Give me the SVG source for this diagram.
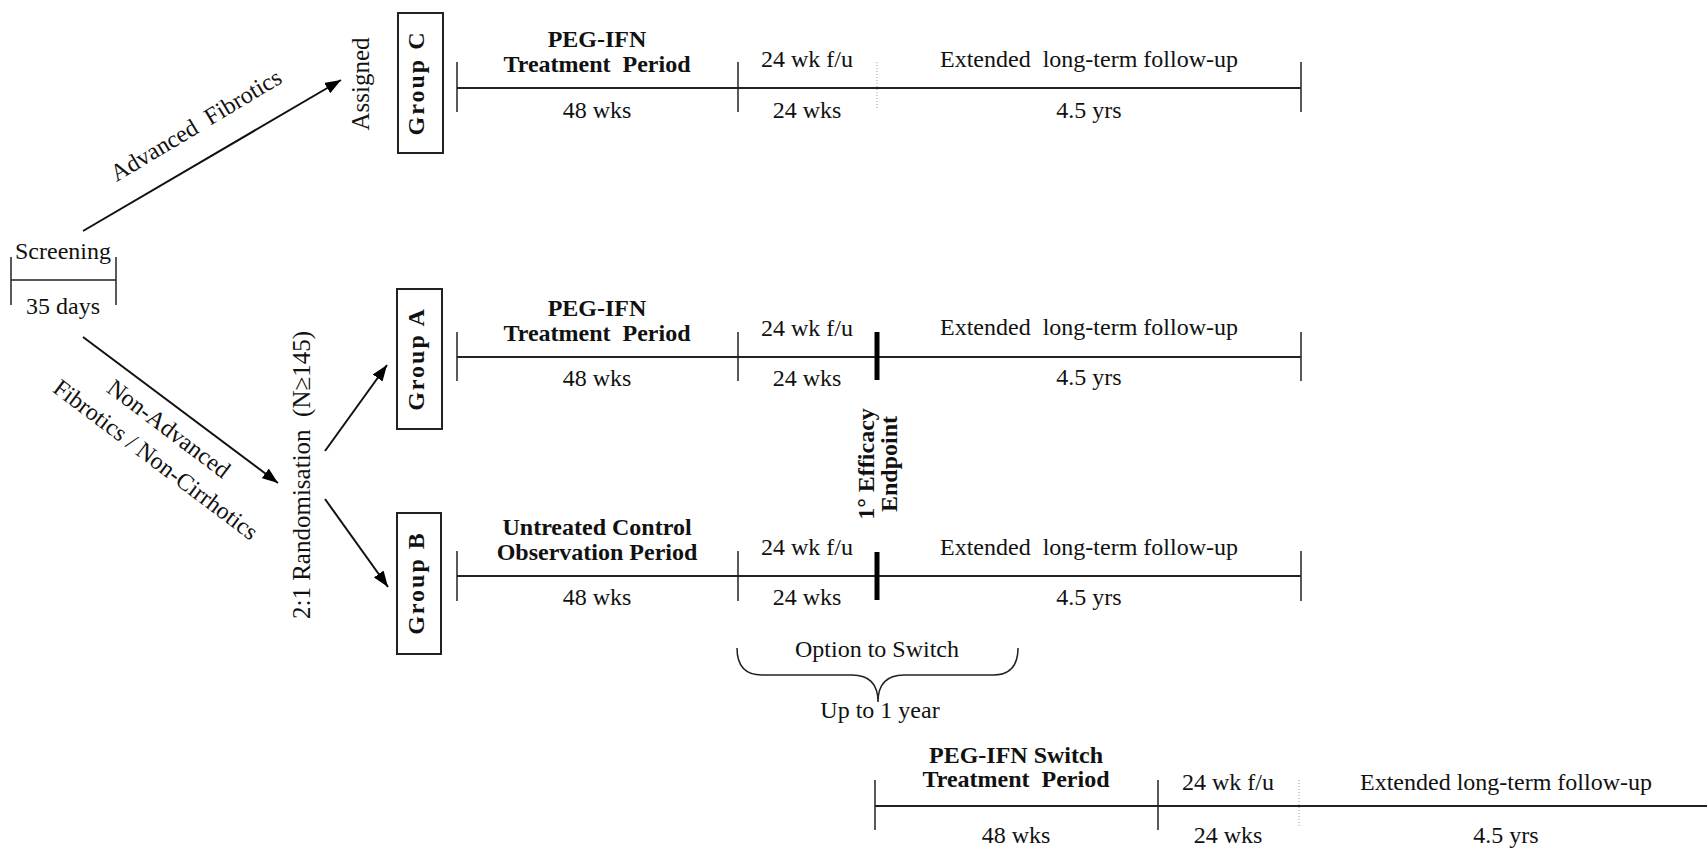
<svg xmlns="http://www.w3.org/2000/svg" width="1707" height="848" viewBox="0 0 1707 848">
<style>
.t{font-family:"Liberation Serif","Times New Roman",serif;font-size:24px;fill:#111;text-anchor:middle}
.b{font-weight:bold}
.ln{stroke:#222;stroke-width:2;fill:none}
.tk{stroke:#222;stroke-width:1.5;fill:none}
.dot{stroke:#999;stroke-width:1;stroke-dasharray:1 2}
.bar{stroke:#000;stroke-width:5}
.box{fill:#fff;stroke:#222;stroke-width:2}
.ar{stroke:#111;stroke-width:2;fill:none;marker-end:url(#ah)}
</style>
<defs>
<marker id="ah" viewBox="0 0 16 12" refX="16" refY="6" markerWidth="16" markerHeight="12" markerUnits="userSpaceOnUse" orient="auto">
<path d="M0,0 L16,6 L0,12 z" fill="#000"/>
</marker>
</defs>
<rect width="1707" height="848" fill="#fff"/>

<g id="screening">
<line class="tk" x1="11" y1="280" x2="116" y2="280"/>
<line class="tk" x1="11" y1="257" x2="11" y2="305"/>
<line class="tk" x1="116" y1="257" x2="116" y2="305"/>
<text class="t" x="63" y="259">Screening</text>
<text class="t" x="63" y="314">35 days</text>
</g>

<g id="connectors">
<line class="ar" x1="83" y1="231" x2="341" y2="80"/>
<line class="ar" x1="83" y1="337" x2="278" y2="483"/>
<line class="ar" x1="325" y1="451" x2="387" y2="365"/>
<line class="ar" x1="325" y1="499" x2="388" y2="587"/>
<text class="t" transform="translate(200,132) rotate(-31)">Advanced&#160; Fibrotics</text>
<text class="t" transform="translate(164,435) rotate(37)">Non-Advanced</text>
<text class="t" transform="translate(151,466) rotate(37)">Fibrotics / Non-Cirrhotics</text>
</g>

<g id="randomisation">
<text class="t" style="font-size:25px" transform="translate(310,475) rotate(-90)">2:1 Randomisation&#160; (N≥145)</text>
</g>

<g id="assigned">
<text class="t" style="font-size:25px" transform="translate(369,84) rotate(-90)">Assigned</text>
</g>

<g id="groupC">
<rect class="box" x="398" y="13" width="45" height="140"/>
<text class="t b" style="letter-spacing:2px" transform="translate(424,83) rotate(-90)">Group C</text>
</g>
<g id="groupA">
<rect class="box" x="397" y="289" width="45" height="140"/>
<text class="t b" style="letter-spacing:2px" transform="translate(424,359) rotate(-90)">Group A</text>
</g>
<g id="groupB">
<rect class="box" x="397" y="513" width="44" height="141"/>
<text class="t b" style="letter-spacing:2px" transform="translate(424,583) rotate(-90)">Group B</text>
</g>

<g id="timelineC">
<line class="ln" x1="457" y1="88" x2="1301" y2="88"/>
<line class="tk" x1="457" y1="62" x2="457" y2="112"/>
<line class="tk" x1="738" y1="62" x2="738" y2="112"/>
<line class="tk" x1="1301" y1="62" x2="1301" y2="112"/>
<line class="dot" x1="877" y1="62" x2="877" y2="110"/>
<text class="t b" x="597" y="47">PEG-IFN</text>
<text class="t b" x="597" y="72">Treatment&#160; Period</text>
<text class="t" x="807" y="67">24 wk f/u</text>
<text class="t" x="1089" y="67">Extended&#160; long-term follow-up</text>
<text class="t" x="597" y="118">48 wks</text>
<text class="t" x="807" y="118">24 wks</text>
<text class="t" x="1089" y="118">4.5 yrs</text>
</g>

<g id="timelineA">
<line class="ln" x1="457" y1="357" x2="1301" y2="357"/>
<line class="tk" x1="457" y1="332" x2="457" y2="381"/>
<line class="tk" x1="738" y1="332" x2="738" y2="381"/>
<line class="tk" x1="1301" y1="332" x2="1301" y2="381"/>
<line class="bar" x1="877" y1="332" x2="877" y2="380"/>
<text class="t b" x="597" y="316">PEG-IFN</text>
<text class="t b" x="597" y="341">Treatment&#160; Period</text>
<text class="t" x="807" y="336">24 wk f/u</text>
<text class="t" x="1089" y="335">Extended&#160; long-term follow-up</text>
<text class="t" x="597" y="386">48 wks</text>
<text class="t" x="807" y="386">24 wks</text>
<text class="t" x="1089" y="385">4.5 yrs</text>
</g>

<g id="endpoint">
<text class="t b" transform="translate(874,464) rotate(-90)">1° Efficacy</text>
<text class="t b" transform="translate(897,464) rotate(-90)">Endpoint</text>
</g>

<g id="timelineB">
<line class="ln" x1="457" y1="576" x2="1301" y2="576"/>
<line class="tk" x1="457" y1="551" x2="457" y2="601"/>
<line class="tk" x1="738" y1="551" x2="738" y2="601"/>
<line class="tk" x1="1301" y1="551" x2="1301" y2="601"/>
<line class="bar" x1="877" y1="552" x2="877" y2="600"/>
<text class="t b" x="597" y="535">Untreated Control</text>
<text class="t b" x="597" y="560">Observation Period</text>
<text class="t" x="807" y="555">24 wk f/u</text>
<text class="t" x="1089" y="555">Extended&#160; long-term follow-up</text>
<text class="t" x="597" y="605">48 wks</text>
<text class="t" x="807" y="605">24 wks</text>
<text class="t" x="1089" y="605">4.5 yrs</text>
</g>

<g id="switchOption">
<path class="tk" d="M737,648 Q737,675 762,675 L852,675 Q878,675 878,702 Q878,675 904,675 L993,675 Q1018,675 1018,648"/>
<text class="t" x="877" y="657">Option to Switch</text>
<text class="t" x="880" y="718">Up to 1 year</text>
</g>

<g id="timelineSwitch">
<line class="ln" x1="875" y1="806" x2="1707" y2="806"/>
<line class="tk" x1="875" y1="780" x2="875" y2="830"/>
<line class="tk" x1="1158" y1="780" x2="1158" y2="830"/>
<line class="dot" x1="1299" y1="780" x2="1299" y2="828"/>
<text class="t b" x="1016" y="763">PEG-IFN Switch</text>
<text class="t b" x="1016" y="787">Treatment&#160; Period</text>
<text class="t" x="1228" y="790">24 wk f/u</text>
<text class="t" x="1506" y="790">Extended long-term follow-up</text>
<text class="t" x="1016" y="843">48 wks</text>
<text class="t" x="1228" y="843">24 wks</text>
<text class="t" x="1506" y="843">4.5 yrs</text>
</g>
</svg>
